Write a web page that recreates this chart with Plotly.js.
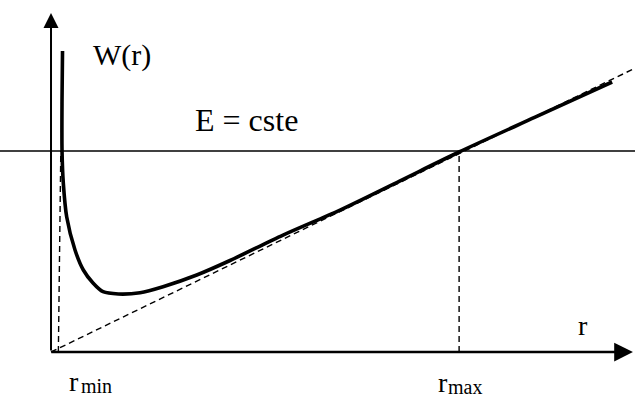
<!DOCTYPE html>
<html>
<head>
<meta charset="utf-8">
<script src="https://cdn.plot.ly/plotly-3.0.1.min.js"></script>
<style>
  html, body { margin: 0; padding: 0; background: #fff; }
  #chart { width: 635px; height: 399px; }
</style>
</head>
<body>
<div id="chart"></div>
<script>
// Potential energy W(r) against distance r, with the energy level E
const rCurve = [0.282, 0.270, 0.270, 0.301, 0.385, 0.588, 0.792, 1.029, 1.275, 1.650,
                2.181, 2.745, 3.571, 4.387, 5.686, 7.083, 8.554, 10.0, 11.863, 13.75];
const wCurve = [7.488, 6.269, 5.000, 4.204, 3.358, 2.537, 2.040, 1.716, 1.500, 1.443,
                1.475, 1.624, 1.915, 2.276, 2.910, 3.532, 4.259, 4.975, 5.841, 6.716];

// Asymptote through the origin
const rAsym = [0, 14.31];
const wAsym = [0, 7.06];

// Energy level and turning points
const energy = 5;
const rMinLine = [0.18, 0.24];
const rMaxLine = [10, 10];
const wTurn = [0, energy];

// Axis extents (arrow tips)
const rAxisEnd = 14.26;
const wAxisEnd = 8.43;

const serif = 'Liberation Serif, Times New Roman, serif';
const dash = '6px,4px';

const traces = [
  { x: rAsym, y: wAsym, mode: 'lines', line: { color: '#000', width: 1.4, dash: dash }, hoverinfo: 'skip' },
  { x: rMinLine, y: wTurn, mode: 'lines', line: { color: '#000', width: 1.4, dash: dash }, hoverinfo: 'skip' },
  { x: rMaxLine, y: wTurn, mode: 'lines', line: { color: '#000', width: 1.4, dash: dash }, hoverinfo: 'skip' },
  { x: rCurve, y: wCurve, mode: 'lines', line: { color: '#000', width: 3.6, shape: 'spline', smoothing: 0.8 }, hoverinfo: 'skip' }
];

function label(x, y, text, size) {
  return { x: x, y: y, xref: 'x', yref: 'y', text: text, showarrow: false,
           xanchor: 'left', yanchor: 'middle',
           font: { family: serif, size: size, color: '#000' }, borderpad: 0 };
}

const layout = {
  width: 635, height: 399,
  margin: { l: 0, r: 0, t: 0, b: 0 },
  paper_bgcolor: '#fff', plot_bgcolor: '#fff',
  showlegend: false,
  font: { family: serif },
  xaxis: { range: [-1.25, 14.31], visible: false, fixedrange: true },
  yaxis: { range: [-1.169, 8.756], visible: false, fixedrange: true },
  shapes: [
    { type: 'line', xref: 'paper', yref: 'y', x0: 0, x1: 1, y0: energy, y1: energy,
      line: { color: '#000', width: 1.5 }, layer: 'below' }
  ],
  annotations: [
    // axes drawn as arrows from the origin
    { x: 0, y: wAxisEnd, ax: 0, ay: 0, axref: 'x', ayref: 'y', xref: 'x', yref: 'y', text: '',
      showarrow: true, arrowhead: 2, arrowsize: 1.5, arrowwidth: 2, arrowcolor: '#000' },
    { x: rAxisEnd, y: 0, ax: -0.03, ay: 0, axref: 'x', ayref: 'y', xref: 'x', yref: 'y', text: '',
      showarrow: true, arrowhead: 2, arrowsize: 1.5, arrowwidth: 2.5, arrowcolor: '#000' },
    // labels
    label(1.0, 7.39, 'W(r)', 30),
    label(3.50, 5.77, 'E = cste', 32),
    label(12.89, 0.65, 'r', 28),
    label(0.42, -0.74, 'r', 28),
    label(0.70, -0.84, 'min', 20),
    label(9.46, -0.76, 'r', 28),
    label(9.70, -0.86, 'max', 20)
  ]
};

Plotly.newPlot('chart', traces, layout, { staticPlot: true, displayModeBar: false });
</script>
</body>
</html>
